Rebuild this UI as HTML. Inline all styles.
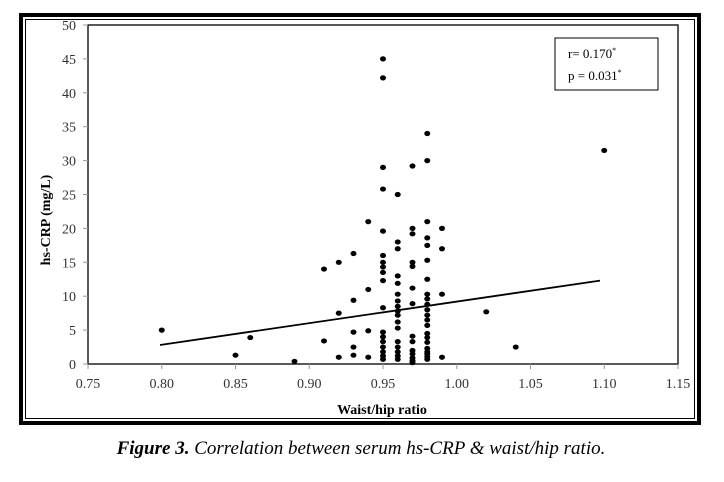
<!DOCTYPE html>
<html><head><style>
body{margin:0;background:#fff;width:724px;height:482px;overflow:hidden}
svg{display:block}
</style></head><body>
<svg width="724" height="482" xmlns="http://www.w3.org/2000/svg" font-family="Liberation Serif, serif">
<rect x="21" y="15" width="678" height="408" fill="none" stroke="#000" stroke-width="4"/>
<rect x="25.5" y="19.5" width="669" height="399" fill="none" stroke="#000" stroke-width="1"/>
<rect x="88" y="25" width="590" height="339" fill="none" stroke="#222" stroke-width="1.5"/>
<g stroke="#999" stroke-width="1" id="ticks"></g>
<g font-size="14" fill="#333" text-anchor="end" id="yl"></g>
<g font-size="14" fill="#333" text-anchor="middle" id="xl"></g>
<line x1="160" y1="345" x2="600" y2="280.6" stroke="#000" stroke-width="1.8"/>
<g id="pts" fill="#000"></g>
<rect x="555" y="38" width="103" height="52" fill="#fff" stroke="#000" stroke-width="1"/>
<text x="568" y="58" font-size="13">r= 0.170<tspan font-size="8" dy="-5">*</tspan></text>
<text x="568" y="80" font-size="13">p = 0.031<tspan font-size="8" dy="-5">*</tspan></text>
<text x="382" y="414" font-size="14" font-weight="bold" text-anchor="middle">Waist/hip ratio</text>
<text transform="translate(50,220) rotate(-90)" font-size="14" font-weight="bold" text-anchor="middle">hs-CRP (mg/L)</text>
<text x="361" y="454" font-size="19" font-style="italic" text-anchor="middle"><tspan font-weight="bold">Figure 3.</tspan> Correlation between serum hs-CRP &amp; waist/hip ratio.</text>
</svg>
<script>
const X=v=>88+(v-0.75)/0.4*590, Y=v=>364-v*6.78;
const ns="http://www.w3.org/2000/svg";
const t=document.getElementById('ticks'),yl=document.getElementById('yl'),xl=document.getElementById('xl');
function el(p,n,a,txt){const e=document.createElementNS(ns,n);for(const k in a)e.setAttribute(k,a[k]);if(txt)e.textContent=txt;p.appendChild(e);}
for(let i=0;i<=50;i+=5){el(t,'line',{x1:83,x2:88,y1:Y(i),y2:Y(i)});el(yl,'text',{x:76,y:Y(i)+5},String(i));}
for(let i=0;i<=8;i++){const v=0.75+i*0.05;el(t,'line',{x1:X(v),x2:X(v),y1:364,y2:369});el(xl,'text',{x:X(v),y:388},v.toFixed(2));}
const d={0.80:[5],0.85:[1.3],0.86:[3.9],0.89:[0.4],0.91:[14,3.4],0.92:[15,7.5,1.0],0.93:[16.3,9.4,4.7,2.5,1.3],0.94:[21,11,4.9,1.0],
0.95:[45,42.2,29,25.8,19.6,16,15,14.3,13.5,12.3,8.3,4.7,4,3.3,2.5,1.8,1.2,0.7],
0.96:[25,18,17,13,11.9,10.3,9.3,8.5,7.8,7.2,6.2,5.3,3.3,2.5,1.8,1.2,0.7],
0.97:[29.2,20,19.2,15,14.4,11.2,8.9,4.1,3.3,2,1.5,0.9,0.5,0.2],
0.98:[34,30,21,18.6,17.5,15.3,12.5,10.3,9.6,8.8,8,7.2,6.5,5.7,4.5,3.9,3.2,2.3,1.8,1.5,1.1,0.7],
0.99:[20,17,10.3,1.0],1.02:[7.7],1.04:[2.5],1.10:[31.5]};
const p=document.getElementById('pts');
for(const k in d)for(const v of d[k])el(p,'ellipse',{cx:X(+k),cy:Y(v),rx:3,ry:2.6});
</script>
</body></html>
